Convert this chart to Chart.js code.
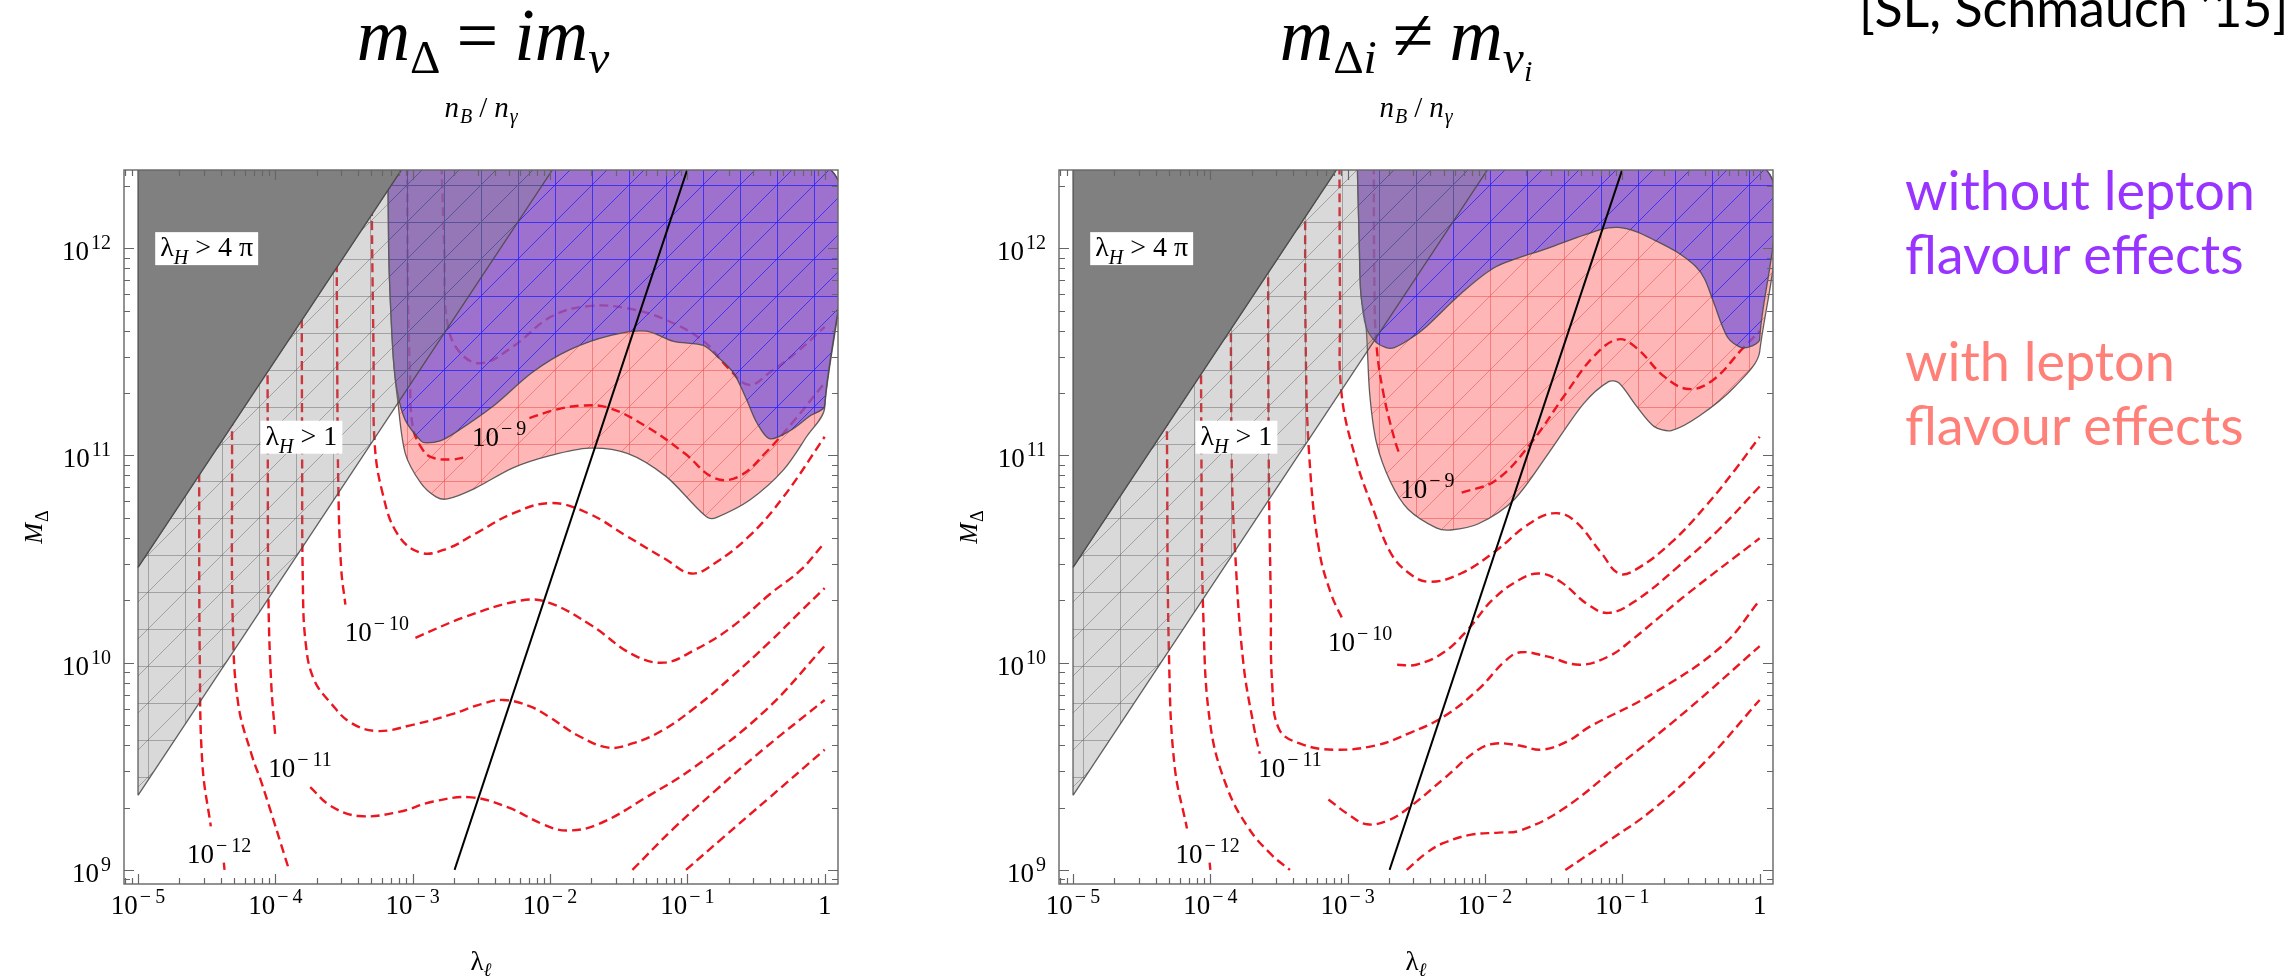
<!DOCTYPE html>
<html>
<head>
<meta charset="utf-8">
<script src="https://cdn.jsdelivr.net/npm/chart.js@4.4.1/dist/chart.umd.min.js"></script>
<style>
body { margin: 0; width: 2290px; height: 976px; overflow: hidden; background: #fff; position: relative; }
canvas { position: absolute; top: 0; }
#left { left: 0; }
#right { left: 935px; }
.ttl { position: absolute; top: -2px; font: italic 74px "Liberation Serif", "DejaVu Serif", serif; line-height: 1; white-space: nowrap; transform: translateX(-50%); }
.ttl sub { font-size: 0.64em; vertical-align: -0.28em; }
.ttl .up { font-style: normal; }
.ttl .op { font-style: normal; margin: 0 16px; }
.ref { position: absolute; left: 1859px; top: -19px; font: 52px Lato, "Open Sans", sans-serif; line-height: 1; white-space: nowrap; }
.note { position: absolute; left: 1905px; font: 54px Lato, "Open Sans", sans-serif; line-height: 64px; white-space: nowrap; }
</style>
</head>
<body>
<canvas id="left" width="935" height="976"></canvas>
<canvas id="right" width="935" height="976"></canvas>
<div class="ttl" style="left:483px">m<sub class="up">Δ</sub><span class="op">=</span>im<sub>ν</sub></div>
<div class="ttl" style="left:1406px">m<sub><span class="up">Δ</span>i</sub><span class="op">≠</span>m<sub>ν<sub>i</sub></sub></div>
<div class="ref">[SL, Schmauch ’15]</div>
<div class="note" style="top:158px;color:#9933ff">without lepton<br>flavour effects</div>
<div class="note" style="top:329px;color:#ff7f79">with lepton<br>flavour effects</div>
<script>
// all values are log10 numbers: [log10 lambda_l, log10 M_Delta]
const xDecades = [-5, -4, -3, -2, -1, 0];
const yDecades = [9, 10, 11, 12];
const xRange = [-5.102, 0.097];
const yRange = [8.932, 12.377];

const strongHiggs = [[-5, 10.46], [-5, 12.40], [-3.06, 12.40], [-5, 10.46]];
const largeHiggs = [[-5, 9.36], [-5, 10.46], [-3.06, 12.40], [-1.96, 12.40], [-5, 9.36]];
const blackLine = [[-2.695, 9.0], [-0.99, 12.40]];

const leftPurple = [[-3.18, 12.40], [-3.175, 12.0], [-3.165, 11.78], [-3.14, 11.46], [-3.11, 11.30], [-3.054, 11.17], [-2.94, 11.07], [-2.90, 11.06], [-2.80, 11.07], [-2.69, 11.11], [-2.41, 11.24], [-2.13, 11.40], [-1.855, 11.51], [-1.55, 11.58], [-1.30, 11.60], [-1.10, 11.55], [-0.88, 11.53], [-0.787, 11.48], [-0.666, 11.40], [-0.569, 11.27], [-0.496, 11.16], [-0.40, 11.08], [-0.25, 11.12], [-0.108, 11.19], [0, 11.24], [0, 12.40], [-3.18, 12.40]];
const leftPink = [[-3.18, 12.40], [-3.175, 12.0], [-3.165, 11.78], [-3.14, 11.46], [-3.11, 11.27], [-3.054, 11.01], [-2.94, 10.866], [-2.83, 10.80], [-2.747, 10.79], [-2.55, 10.84], [-2.27, 10.94], [-1.994, 11.00], [-1.716, 11.035], [-1.437, 11.01], [-1.158, 10.90], [-0.935, 10.75], [-0.85, 10.70], [-0.79, 10.70], [-0.545, 10.785], [-0.30, 10.93], [-0.132, 11.09], [0, 11.23], [0, 12.40], [-3.18, 12.40]];
const rightPurple = [[-2.93, 12.40], [-2.915, 12.0], [-2.904, 11.78], [-2.866, 11.62], [-2.80, 11.55], [-2.72, 11.52], [-2.66, 11.52], [-2.55, 11.56], [-2.43, 11.62], [-2.176, 11.78], [-1.92, 11.91], [-1.54, 12.0], [-1.154, 12.09], [-1.03, 12.10], [-0.90, 12.08], [-0.77, 12.04], [-0.60, 11.98], [-0.464, 11.91], [-0.40, 11.85], [-0.336, 11.74], [-0.234, 11.57], [-0.132, 11.52], [-0.05, 11.53], [0, 11.56], [0, 12.40], [-2.93, 12.40]];
const rightPink = [[-2.93, 12.40], [-2.915, 12.0], [-2.904, 11.78], [-2.866, 11.62], [-2.84, 11.30], [-2.79, 11.06], [-2.687, 10.87], [-2.56, 10.74], [-2.355, 10.65], [-2.25, 10.64], [-2.048, 10.67], [-1.79, 10.785], [-1.538, 11.01], [-1.282, 11.25], [-1.10, 11.356], [-1.026, 11.35], [-0.90, 11.24], [-0.77, 11.14], [-0.643, 11.12], [-0.44, 11.19], [-0.184, 11.33], [0, 11.50], [0, 12.40], [-2.93, 12.40]];

const leftContours = [
  [[-2.79, 12.40], [-2.77, 12.0], [-2.75, 11.65], [-2.66, 11.50], [-2.50, 11.445], [-2.27, 11.525], [-1.99, 11.67], [-1.72, 11.72], [-1.44, 11.71], [-1.16, 11.655], [-0.88, 11.55], [-0.70, 11.42], [-0.55, 11.34], [-0.40, 11.40], [-0.20, 11.50], [0, 11.62]],
  [[-3.04, 12.40], [-3.035, 11.8], [-3.02, 11.4], [-3.0, 11.14], [-2.93, 11.03], [-2.86, 10.99], [-2.72, 10.98], [-2.62, 10.99]],
  [[-2.15, 11.18], [-1.96, 11.22], [-1.77, 11.24], [-1.576, 11.23], [-1.30, 11.14], [-1.02, 11.01], [-0.80, 10.89], [-0.62, 10.90], [-0.42, 11.02], [-0.22, 11.17], [0, 11.35]],
  [[-3.30, 12.40], [-3.295, 12.0], [-3.285, 11.5], [-3.277, 11.06], [-3.22, 10.82], [-3.11, 10.62], [-2.94, 10.53], [-2.75, 10.55], [-2.55, 10.62], [-2.27, 10.72], [-1.99, 10.77], [-1.72, 10.72], [-1.44, 10.61], [-1.16, 10.50], [-0.97, 10.43], [-0.80, 10.48], [-0.55, 10.61], [-0.30, 10.80], [0, 11.09]],
  [[-3.555, 12.40], [-3.55, 11.5], [-3.54, 10.8], [-3.52, 10.45], [-3.49, 10.28]],
  [[-2.98, 10.12], [-2.62, 10.22], [-2.21, 10.30], [-2.01, 10.29], [-1.70, 10.18], [-1.40, 10.04], [-1.17, 10.0], [-0.95, 10.06], [-0.68, 10.17], [-0.40, 10.33], [-0.17, 10.45], [0, 10.58]],
  [[-3.81, 12.40], [-3.805, 11.0], [-3.80, 10.4], [-3.78, 10.1], [-3.72, 9.92], [-3.59, 9.80], [-3.45, 9.71], [-3.26, 9.67], [-3.0, 9.70], [-2.72, 9.75], [-2.50, 9.80], [-2.34, 9.82], [-2.15, 9.79], [-2.01, 9.74], [-1.80, 9.65], [-1.575, 9.59], [-1.40, 9.61], [-1.19, 9.67], [-0.95, 9.78], [-0.68, 9.93], [-0.40, 10.10], [-0.17, 10.25], [0, 10.36]],
  [[-4.06, 12.40], [-4.055, 11.0], [-4.05, 10.3], [-4.03, 9.9], [-4.0, 9.64]],
  [[-3.746, 9.40], [-3.6, 9.31], [-3.39, 9.26], [-3.1, 9.28], [-2.85, 9.33], [-2.57, 9.35], [-2.3, 9.30], [-2.05, 9.22], [-1.88, 9.19], [-1.65, 9.22], [-1.3, 9.35], [-0.94, 9.50], [-0.43, 9.77], [0, 10.08]],
  [[-4.32, 12.40], [-4.315, 11.0], [-4.31, 10.2], [-4.27, 9.8], [-4.17, 9.55], [-4.10, 9.42], [-3.90, 9.0]],
  [[-1.40, 9.0], [-1.1, 9.2], [-0.8, 9.38], [-0.45, 9.58], [0, 9.82]],
  [[-4.56, 12.40], [-4.555, 11.0], [-4.55, 10.0], [-4.53, 9.5], [-4.47, 9.21]],
  [[-4.375, 9.035], [-4.37, 9.0]],
  [[-1.01, 9.0], [-0.75, 9.15], [-0.4, 9.35], [0, 9.58]]
];
const rightContours = [
  [[-2.81, 12.40], [-2.805, 11.8], [-2.79, 11.53], [-2.74, 11.30], [-2.66, 11.08], [-2.62, 11.0]],
  [[-2.17, 10.82], [-1.92, 10.88], [-1.665, 11.06], [-1.41, 11.30], [-1.205, 11.48], [-1.03, 11.56], [-0.90, 11.52], [-0.694, 11.38], [-0.516, 11.32], [-0.337, 11.365], [-0.132, 11.51], [0, 11.60]],
  [[-3.06, 12.40], [-3.055, 11.7], [-3.045, 11.30], [-2.94, 10.98], [-2.814, 10.74], [-2.687, 10.53], [-2.55, 10.43], [-2.406, 10.39], [-2.176, 10.43], [-1.92, 10.54], [-1.70, 10.66], [-1.512, 10.72], [-1.358, 10.69], [-1.154, 10.53], [-1.026, 10.43], [-0.90, 10.45], [-0.643, 10.58], [-0.387, 10.76], [-0.18, 10.93], [0, 11.09]],
  [[-3.31, 12.40], [-3.305, 11.5], [-3.28, 11.0], [-3.21, 10.55], [-3.12, 10.33], [-3.03, 10.2]],
  [[-2.64, 9.99], [-2.5, 9.99], [-2.3, 10.05], [-2.124, 10.16], [-1.95, 10.30], [-1.75, 10.40], [-1.6, 10.43], [-1.45, 10.39], [-1.25, 10.28], [-1.1, 10.24], [-0.9, 10.30], [-0.6, 10.46], [-0.3, 10.64], [0, 10.85]],
  [[-3.58, 12.40], [-3.575, 11.0], [-3.56, 10.3], [-3.55, 9.9], [-3.50, 9.68], [-3.35, 9.61], [-3.1, 9.58], [-2.8, 9.6], [-2.55, 9.66], [-2.3, 9.74], [-2.05, 9.87], [-1.85, 10.01], [-1.74, 10.05], [-1.55, 10.03], [-1.31, 9.99], [-1.1, 10.03], [-0.93, 10.11], [-0.53, 10.33], [0, 10.6]],
  [[-3.85, 12.40], [-3.845, 11.0], [-3.82, 10.54], [-3.76, 10.0], [-3.68, 9.68], [-3.64, 9.56]],
  [[-3.14, 9.34], [-3.0, 9.27], [-2.86, 9.22], [-2.7, 9.24], [-2.555, 9.30], [-2.3, 9.44], [-2.05, 9.58], [-1.92, 9.61], [-1.75, 9.60], [-1.59, 9.58], [-1.4, 9.62], [-1.24, 9.69], [-0.78, 9.85], [-0.275, 10.08], [0, 10.30]],
  [[-4.07, 12.40], [-4.065, 11.0], [-4.05, 10.2], [-4.0, 9.7], [-3.88, 9.4], [-3.72, 9.2], [-3.55, 9.07], [-3.42, 9.0]],
  [[-2.57, 9.0], [-2.43, 9.08], [-2.30, 9.13], [-2.10, 9.17], [-1.9, 9.18], [-1.744, 9.19], [-1.44, 9.29], [-1.035, 9.50], [-0.53, 9.77], [0, 10.08]],
  [[-4.32, 12.40], [-4.315, 11.0], [-4.30, 10.0], [-4.26, 9.5], [-4.17, 9.2]],
  [[-4.005, 9.035], [-4.0, 9.0]],
  [[-1.415, 9.0], [-1.1, 9.14], [-0.78, 9.29], [-0.4, 9.52], [0, 9.82]]
];

// contour labels: [log10 lambda, log10 M, exponent]
const leftLabels = [[-2.37, 11.09, '9'], [-3.26, 10.15, '10'], [-3.82, 9.49, '11'], [-4.41, 9.075, '12']];
const rightLabels = [[-2.42, 10.84, '9'], [-2.91, 10.10, '10'], [-3.42, 9.49, '11'], [-4.02, 9.075, '12']];
// region labels: [log10 lambda, log10 M, bound]
const higgsLabels = [[-4.50, 12.0, '4 π'], [-3.81, 11.09, '1']];

const SERIF = '"Liberation Serif", "DejaVu Serif", serif';
const MINUS = '\u2212';

function toXY(pts) {
  return pts.map(p => ({ x: Math.pow(10, p[0]), y: Math.pow(10, p[1]) }));
}

function mesh(fill, line, size) {
  const tile = document.createElement('canvas');
  tile.width = size; tile.height = size;
  const g = tile.getContext('2d');
  g.fillStyle = fill;
  g.fillRect(0, 0, size, size);
  g.strokeStyle = line;
  g.lineWidth = 1;
  g.beginPath();
  g.moveTo(0.5, 0); g.lineTo(0.5, size);
  g.moveTo(0, 0.5); g.lineTo(size, 0.5);
  g.moveTo(0, size); g.lineTo(size, 0);
  g.stroke();
  return g.createPattern(tile, 'repeat');
}

function runs(ctx, x, y, parts, align) {
  let w = 0;
  parts.forEach(p => {
    ctx.font = (p.it ? 'italic ' : '') + p.s + 'px ' + SERIF;
    p.w = ctx.measureText(p.t).width;
    w += p.w + (p.gap || 0);
  });
  let cx = align === 'center' ? x - w / 2 : align === 'right' ? x - w : x;
  parts.forEach(p => {
    ctx.font = (p.it ? 'italic ' : '') + p.s + 'px ' + SERIF;
    ctx.fillText(p.t, cx, y + (p.dy || 0));
    cx += p.w + (p.gap || 0);
  });
  return w;
}

function power(ctx, x, y, exp, neg, align) {
  if (exp === null) return runs(ctx, x, y, [{ t: '1', s: 27 }], align);
  return runs(ctx, x, y, [
    { t: '10', s: 27, gap: 2 },
    { t: (neg ? MINUS + '\u2009' : '') + exp, s: 20, dy: -11 }
  ], align);
}

const framePlugin = {
  id: 'frame',
  afterDatasetsDraw(chart, args, opts) {
    const ctx = chart.ctx;
    const a = chart.chartArea;
    const xs = chart.scales.x, ys = chart.scales.y;
    const px = u => xs.getPixelForValue(Math.pow(10, u));
    const py = v => ys.getPixelForValue(Math.pow(10, v));
    ctx.save();
    ctx.fillStyle = '#000';
    ctx.textBaseline = 'alphabetic';
    ctx.textAlign = 'left';

    // region labels in white boxes
    higgsLabels.forEach(([u, v, t]) => {
      const parts = [{ t: 'λ', s: 28 }, { t: 'H', s: 20, it: true, dy: 8, gap: 7 }, { t: '> ' + t, s: 28 }];
      const w = runs(ctx, -9999, 0, parts, 'left');
      ctx.fillStyle = '#fff';
      ctx.fillRect(px(u) - w / 2 - 5, py(v) - 16, w + 10, 33);
      ctx.fillStyle = '#000';
      runs(ctx, px(u), py(v) + 8, parts, 'center');
    });

    // contour labels
    opts.labels.forEach(([u, v, e]) => power(ctx, px(u), py(v) + 9, e, true, 'center'));

    // frame and inward ticks
    ctx.strokeStyle = '#666';
    ctx.lineWidth = 1.4;
    ctx.strokeRect(a.left, a.top, a.right - a.left, a.bottom - a.top);
    ctx.lineWidth = 1.2;
    ctx.beginPath();
    for (let d = -6; d <= 0; d++) {
      for (let k = 1; k <= 9; k++) {
        const u = d + Math.log10(k);
        if (u < xRange[0] || u > xRange[1]) continue;
        const x = Math.round(px(u)) + 0.5, len = k === 1 ? 10 : 6;
        ctx.moveTo(x, a.bottom); ctx.lineTo(x, a.bottom - len);
        ctx.moveTo(x, a.top); ctx.lineTo(x, a.top + len);
      }
    }
    for (let d = 8; d <= 12; d++) {
      for (let k = 1; k <= 9; k++) {
        const v = d + Math.log10(k);
        if (v < yRange[0] || v > yRange[1]) continue;
        const y = Math.round(py(v)) + 0.5, len = k === 1 ? 10 : 6;
        ctx.moveTo(a.left, y); ctx.lineTo(a.left + len, y);
        ctx.moveTo(a.right, y); ctx.lineTo(a.right - len, y);
      }
    }
    ctx.stroke();

    // tick labels
    xDecades.forEach(d => power(ctx, px(d), a.bottom + 30, d === 0 ? null : String(-d), true, 'center'));
    yDecades.forEach(d => power(ctx, a.left - 13, py(d) + 12, String(d), false, 'right'));

    // axis titles
    const cx = (a.left + a.right) / 2;
    runs(ctx, cx, 970, [{ t: 'λ', s: 27 }, { t: 'ℓ', s: 19, it: true, dy: 6 }], 'center');
    runs(ctx, cx, 117, [
      { t: 'n', s: 29, it: true, gap: 1 }, { t: 'B', s: 20, it: true, dy: 6, gap: 7 },
      { t: '/', s: 29, gap: 7 },
      { t: 'n', s: 29, it: true, gap: 1 }, { t: 'γ', s: 20, it: true, dy: 6 }
    ], 'center');
    ctx.translate(42, (a.top + a.bottom) / 2);
    ctx.rotate(-Math.PI / 2);
    runs(ctx, 0, 0, [{ t: 'M', s: 25, it: true, gap: 1 }, { t: 'Δ', s: 18, dy: 6 }], 'center');
    ctx.restore();
  }
};

function makeChart(id, purple, pink, contours, labels) {
  const purpleFill = mesh('rgba(125,90,215,0.75)', 'rgba(35,35,255,0.75)', 37);
  const pinkFill = mesh('rgb(255,182,182)', 'rgba(235,80,80,0.55)', 37);
  const grayFill = mesh('rgba(128,128,128,0.3)', 'rgba(95,95,95,0.45)', 37);
  const region = (pts, fill, order, tension) => ({
    data: toXY(pts), showLine: true, fill: 'shape', backgroundColor: fill,
    borderColor: 'rgba(70,70,70,0.85)', borderWidth: 1.3, pointRadius: 0, tension: tension, order: order
  });
  const datasets = [
    { data: toXY(blackLine), showLine: true, borderColor: '#000', borderWidth: 2, pointRadius: 0, order: 1 },
    region(strongHiggs, 'rgb(128,128,128)', 2, 0),
    region(largeHiggs, grayFill, 3, 0),
    region(purple, purpleFill, 4, 0.3),
    region(pink, pinkFill, 6, 0.3)
  ];
  contours.forEach(c => datasets.push({
    data: toXY(c), showLine: true, borderColor: 'rgb(236,22,32)', borderWidth: 2.4,
    borderDash: [9, 5], pointRadius: 0, tension: 0.4, order: 5
  }));
  return new Chart(document.getElementById(id), {
    type: 'scatter',
    data: { datasets: datasets },
    options: {
      responsive: false,
      animation: false,
      events: [],
      layout: { padding: { left: 124, right: 97, top: 170, bottom: 92 } },
      plugins: { legend: { display: false }, tooltip: { enabled: false }, frame: { labels: labels } },
      scales: {
        x: { type: 'logarithmic', min: Math.pow(10, xRange[0]), max: Math.pow(10, xRange[1]), display: false },
        y: { type: 'logarithmic', min: Math.pow(10, yRange[0]), max: Math.pow(10, yRange[1]), display: false }
      }
    },
    plugins: [framePlugin]
  });
}

makeChart('left', leftPurple, leftPink, leftContours, leftLabels);
makeChart('right', rightPurple, rightPink, rightContours, rightLabels);
</script>
</body>
</html>
